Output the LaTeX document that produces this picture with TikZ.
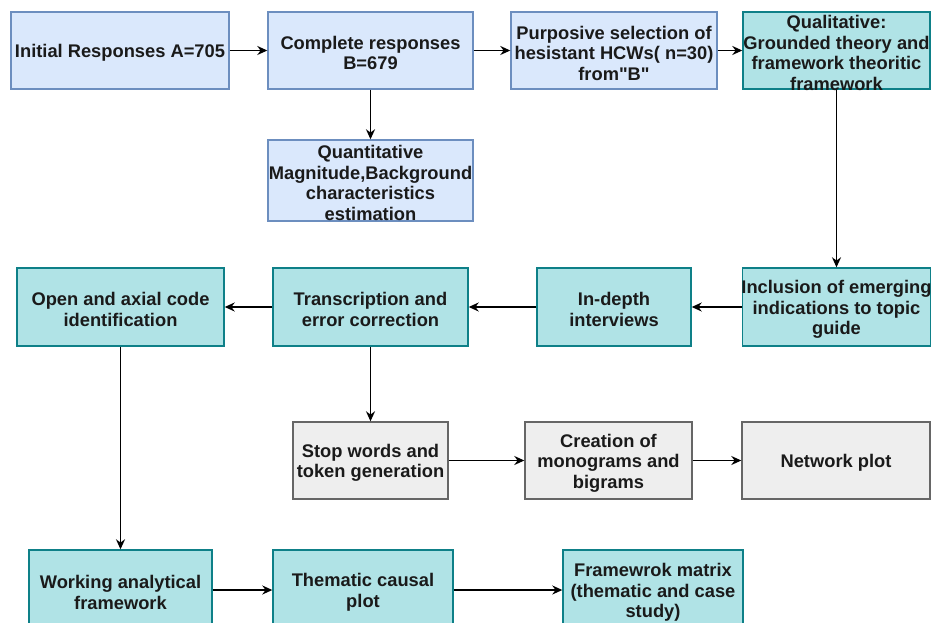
\documentclass[tikz,border=0pt]{standalone}
\usepackage{fontspec}
\setmainfont{Liberation Sans}[Ligatures=TeXOff]
\usetikzlibrary{arrows.meta}
\definecolor{bluefill}{HTML}{DAE8FC}
\definecolor{blueline}{HTML}{6C8EBF}
\definecolor{tealfill}{HTML}{B0E3E6}
\definecolor{tealline}{HTML}{0E8088}
\definecolor{grayfill}{HTML}{EEEEEE}
\definecolor{grayline}{HTML}{666666}
\definecolor{txt}{HTML}{1A1A1A}
\tikzset{
  box/.style={rectangle, inner sep=0pt, align=center,
    text=txt, font=\fontsize{18.3pt}{20.5pt}\selectfont\bfseries},
  frame/.style={rectangle, inner sep=0pt, line width=1.4pt},
  bluebox/.style={frame, fill=bluefill, draw=blueline},
  tealbox/.style={frame, fill=tealfill, draw=tealline},
  graybox/.style={frame, fill=grayfill, draw=grayline},
  conn/.style={line width=1.6pt, draw=black, -{Stealth[length=10pt,width=9pt]}}
}
% #1 style, #2 name, #3 x, #4 y, #5 width, #6 height, #7 text
\newcommand{\flowbox}[7]{%
  \node[#1, minimum width=#5pt, minimum height=#6pt] (#2) at (#3,#4) {};
  \node[box] (#2T) at (#3,#4+2.5) {#7};}
\begin{document}
\begin{tikzpicture}[x=1pt,y=-1pt]
\useasboundingbox (0,0) rectangle (936,623);
\fill[white] (0,0) rectangle (936,623);
\clip (0,0) rectangle (936,623);
% row 1
\flowbox{bluebox}{init}{120}{50.5}{218}{77}{Initial Responses A=705}
\flowbox{bluebox}{comp}{370.5}{50.5}{205}{77}{Complete responses\\B=679}
\flowbox{bluebox}{purp}{614}{50.5}{206}{77}{Purposive selection of\\hesistant HCWs( n=30)\\from"B"}
\flowbox{tealbox}{qual}{836.5}{50.5}{187}{77}{Qualitative:\\Grounded theory and\\framework theoritic\\framework}
\flowbox{bluebox}{quan}{370.5}{180.5}{205}{81}{Quantitative\\Magnitude,Background\\characteristics\\estimation}
% row 2
\flowbox{tealbox}{open}{120.5}{307}{207}{78}{Open and axial code\\identification}
\flowbox{tealbox}{tran}{370.5}{307}{195}{78}{Transcription and\\error correction}
\flowbox{tealbox}{indp}{614}{307}{154}{78}{In-depth\\interviews}
\flowbox{tealbox}{incl}{836.5}{307}{188}{78}{Inclusion of emerging\\indications to topic\\guide}
% row 3
\flowbox{graybox}{stop}{370.5}{460.5}{155}{77}{Stop words and\\token generation}
\flowbox{graybox}{crea}{608.5}{460.5}{167}{77}{Creation of\\monograms and\\bigrams}
\flowbox{graybox}{netw}{836}{460.5}{188}{77}{Network plot}
% row 4
\flowbox{tealbox}{work}{120.5}{590}{183}{80}{Working analytical\\framework}
\flowbox{tealbox}{them}{363}{590}{180}{80}{Thematic causal\\plot}
\flowbox{tealbox}{fram}{653}{590}{180}{80}{Framewrok matrix\\(thematic and case\\study)}
% connectors
\draw[conn] (init) -- (comp);
\draw[conn] (comp) -- (purp);
\draw[conn] (purp) -- (qual);
\draw[conn] (comp) -- (quan);
\draw[conn] (qual.south -| incl.north) -- (incl.north);
\draw[conn] (incl) -- (indp);
\draw[conn] (indp) -- (tran);
\draw[conn] (tran) -- (open);
\draw[conn] (tran.south) -- (stop.north);
\draw[conn] (stop) -- (crea);
\draw[conn] (crea) -- (netw);
\draw[conn] (open.south) -- (work.north);
\draw[conn] (work) -- (them);
\draw[conn] (them) -- (fram);
\end{tikzpicture}
\end{document}
